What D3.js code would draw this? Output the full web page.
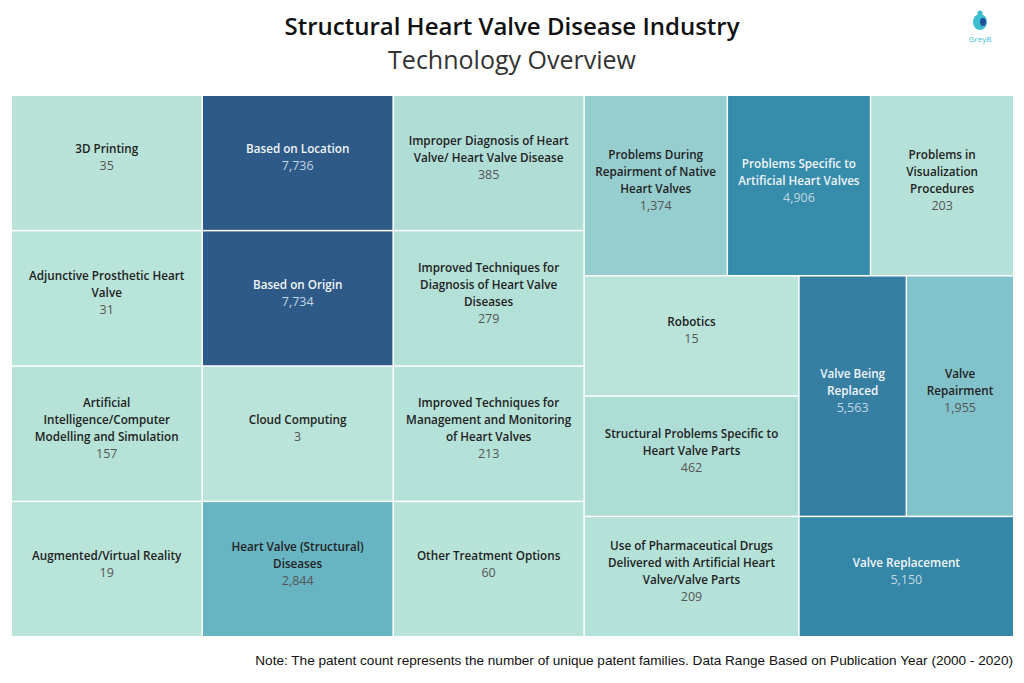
<!DOCTYPE html>
<html><head><meta charset="utf-8">
<script src="https://cdn.jsdelivr.net/npm/d3@7"></script>
<style>
body{margin:0;background:#fff;}
svg{display:block;font-family:"Open Sans",sans-serif;}
</style></head><body>
<svg id="c" width="1024" height="683"></svg>
<script>
const categories = [
 "3D Printing","Adjunctive Prosthetic Heart Valve","Artificial Intelligence/Computer Modelling and Simulation","Augmented/Virtual Reality",
 "Based on Location","Based on Origin","Cloud Computing","Heart Valve (Structural) Diseases",
 "Improper Diagnosis of Heart Valve/ Heart Valve Disease","Improved Techniques for Diagnosis of Heart Valve Diseases","Improved Techniques for Management and Monitoring of Heart Valves","Other Treatment Options",
 "Problems During Repairment of Native Heart Valves","Problems Specific to Artificial Heart Valves","Problems in Visualization Procedures",
 "Robotics","Structural Problems Specific to Heart Valve Parts","Use of Pharmaceutical Drugs Delivered with Artificial Heart Valve/Valve Parts",
 "Valve Being Replaced","Valve Repairment","Valve Replacement"
];
const patentCounts = [35,31,157,19,7736,7734,3,2844,385,279,213,60,1374,4906,203,15,462,209,5563,1955,5150];
const title = "Structural Heart Valve Disease Industry";
const subtitle = "Technology Overview";
const note = "Note: The patent count represents the number of unique patent families. Data Range Based on Publication Year (2000 - 2020)";

const svg = d3.select("#c");
const fmt = d3.format(",");

const color = d3.scaleLinear()
  .domain([0,1400,1950,2850,4900,5600,7736])
  .range(["#bae4d9","#95ced0","#82c3cb","#67b4c2","#358cab","#367ea3","#2d5a87"]);

const root = d3.hierarchy({children: categories.map((c,i)=>({name:c, count:patentCounts[i]}))})
  .sum(d => d.children ? 0 : 1);
d3.treemap().tile(d3.treemapSquarify).size([1001,540]).paddingInner(1.5)(root);

const g = svg.append("g").attr("transform","translate(12,96)");
const cell = g.selectAll("g.cell").data(root.leaves()).join("g").attr("class","cell")
  .attr("transform", d=>`translate(${d.x0},${d.y0})`);
cell.append("rect")
  .attr("width", d=>d.x1-d.x0).attr("height", d=>d.y1-d.y0)
  .attr("fill", d=>color(d.data.count));

function wrap(textSel, words, maxW){
  const lines=[]; let cur=[];
  const tmp = textSel.append("tspan").style("font-weight","600");
  for(const w of words){
    const test=[...cur,w].join(" ");
    tmp.text(test);
    if(tmp.node().getComputedTextLength()>maxW && cur.length){ lines.push(cur.join(" ")); cur=[w]; }
    else cur.push(w);
  }
  if(cur.length) lines.push(cur.join(" "));
  tmp.remove();
  return lines;
}

cell.each(function(d){
  const w=d.x1-d.x0, h=d.y1-d.y0;
  const dark = d.data.count>4000;
  const t = d3.select(this).append("text").attr("text-anchor","middle")
    .style("font-size","11.7px");
  const lines = wrap(t, d.data.name.split(" "), w-16);
  const lh=17;
  const n=lines.length+1;
  const top = h/2 - 5 - (n-1)*lh/2;
  lines.forEach((l,i)=>{
    t.append("tspan").attr("x",w/2).attr("y",top+i*lh+4).text(l)
      .attr("fill", dark?"#f2f5f8":"#222").style("font-weight","600");
  });
  t.append("tspan").attr("x",w/2).attr("y",top+lines.length*lh+4).text(fmt(d.data.count))
    .attr("fill", dark?"#c3d6e2":"#555").style("font-weight","400").style("font-size","12.5px");
});

svg.append("text").attr("x",512).attr("y",35).attr("text-anchor","middle")
  .style("font-size","24px").style("font-weight","600").attr("fill","#111").text(title);
svg.append("text").attr("x",512).attr("y",69).attr("text-anchor","middle")
  .style("font-size","25px").style("font-weight","400").attr("fill","#333").text(subtitle);
svg.append("text").attr("x",1013).attr("y",665).attr("text-anchor","end")
  .style("font-family","'Liberation Sans',Arial,sans-serif").style("font-size","13.6px")
  .attr("fill","#111").text(note);

// logo
const logo = svg.append("g").attr("transform","translate(980,22)");
logo.append("ellipse").attr("rx",7).attr("ry",8).attr("fill","#3bbfcf");
logo.append("circle").attr("cx",0).attr("cy",-9).attr("r",2.5).attr("fill","#3bbfcf");
logo.append("ellipse").attr("cx",3).attr("cy",0).attr("rx",3).attr("ry",4).attr("fill","#1f4f9b");
logo.append("text").attr("x",0).attr("y",20).attr("text-anchor","middle")
  .style("font-size","8px").attr("fill","#3bbfcf").text("GreyB");
</script></body></html>
